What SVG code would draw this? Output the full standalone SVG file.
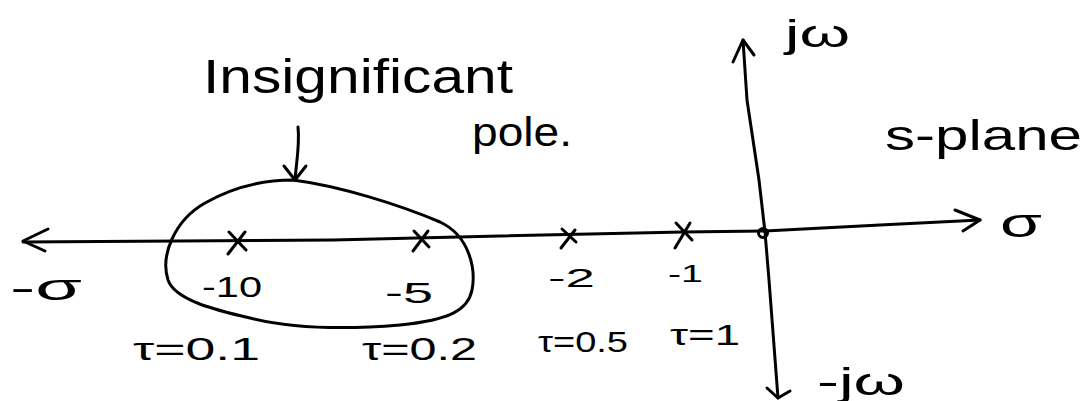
<svg xmlns="http://www.w3.org/2000/svg" width="1086" height="401" viewBox="0 0 1086 401">
<style>
.ln{fill:none;stroke:#000;stroke-width:3;stroke-linecap:round;stroke-linejoin:round}
.t{font-family:"Liberation Sans","DejaVu Sans",sans-serif;fill:#000}
</style>
<rect width="1086" height="401" fill="#fff"/>
<g id="connectors">
  <polyline class="ln" points="23,242 333,240 500,236 683,232 765,231 880,225 980,220"/>
  <polyline class="ln" points="48,229 23,241 45,251"/>
  <polyline class="ln" points="955,210 980,220 963,231"/>
  <polyline class="ln" points="743,40 747,100 759,180 765,232 769,280 778,398"/>
  <polyline class="ln" points="733,62 743,40 754,55"/>
  <polyline class="ln" points="767,388 778,398 790,391"/>
  <path class="ln" d="M298,127 C300,145 296,165 295,180"/>
  <polyline class="ln" points="284,166 295,180 306,166"/>
</g>
<g id="origin"><circle class="ln" cx="763" cy="233" r="4.5"/></g>
<g id="region">
  <path class="ln" d="M293,180 C340,186 400,205 440,222 C470,236 476,270 472,290 C468,310 450,320 400,325 C340,330 290,328 250,318 C215,310 175,300 168,280 C160,255 175,220 205,203 C235,186 265,180 293,180 Z"/>
</g>
<g id="pole-10">
  <path class="ln" d="M229,232 L246,250 M245,232 L228,254"/>
  <text class="t" x="202" y="297" font-size="30" textLength="60" lengthAdjust="spacingAndGlyphs">-10</text>
  <text class="t" x="133" y="360" font-size="32" textLength="127" lengthAdjust="spacingAndGlyphs">τ=0.1</text>
</g>
<g id="pole-5">
  <path class="ln" d="M414,231 L429,247 M428,231 L413,251"/>
  <text class="t" x="385" y="303" font-size="30" textLength="48" lengthAdjust="spacingAndGlyphs">-5</text>
  <text class="t" x="362" y="360" font-size="32" textLength="115" lengthAdjust="spacingAndGlyphs">τ=0.2</text>
</g>
<g id="pole-2">
  <path class="ln" d="M562,229 L576,242 M575,230 L561,248"/>
  <text class="t" x="548" y="287" font-size="25" textLength="47" lengthAdjust="spacingAndGlyphs">-2</text>
  <text class="t" x="538" y="352" font-size="30" textLength="90" lengthAdjust="spacingAndGlyphs">τ=0.5</text>
</g>
<g id="pole-1">
  <path class="ln" d="M676,223 L692,240 M690,223 L675,248"/>
  <text class="t" x="668" y="282" font-size="24" textLength="35" lengthAdjust="spacingAndGlyphs">-1</text>
  <text class="t" x="670" y="345" font-size="30" textLength="70" lengthAdjust="spacingAndGlyphs">τ=1</text>
</g>
<g id="labels">
  <text class="t" x="203" y="93" font-size="48" textLength="310" lengthAdjust="spacingAndGlyphs">Insignificant</text>
  <text class="t" x="472" y="146" font-size="40" textLength="100" lengthAdjust="spacingAndGlyphs">pole.</text>
  <text class="t" x="785" y="47" font-size="38" textLength="65" lengthAdjust="spacingAndGlyphs">jω</text>
  <text class="t" x="885" y="150" font-size="42" textLength="197" lengthAdjust="spacingAndGlyphs">s-plane</text>
  <text class="t" x="1000" y="237" font-size="40" textLength="42" lengthAdjust="spacingAndGlyphs">σ</text>
  <text class="t" x="10" y="300" font-size="36" textLength="72" lengthAdjust="spacingAndGlyphs">-σ</text>
  <text class="t" x="817" y="395" font-size="38" textLength="88" lengthAdjust="spacingAndGlyphs">-jω</text>
</g>
</svg>
